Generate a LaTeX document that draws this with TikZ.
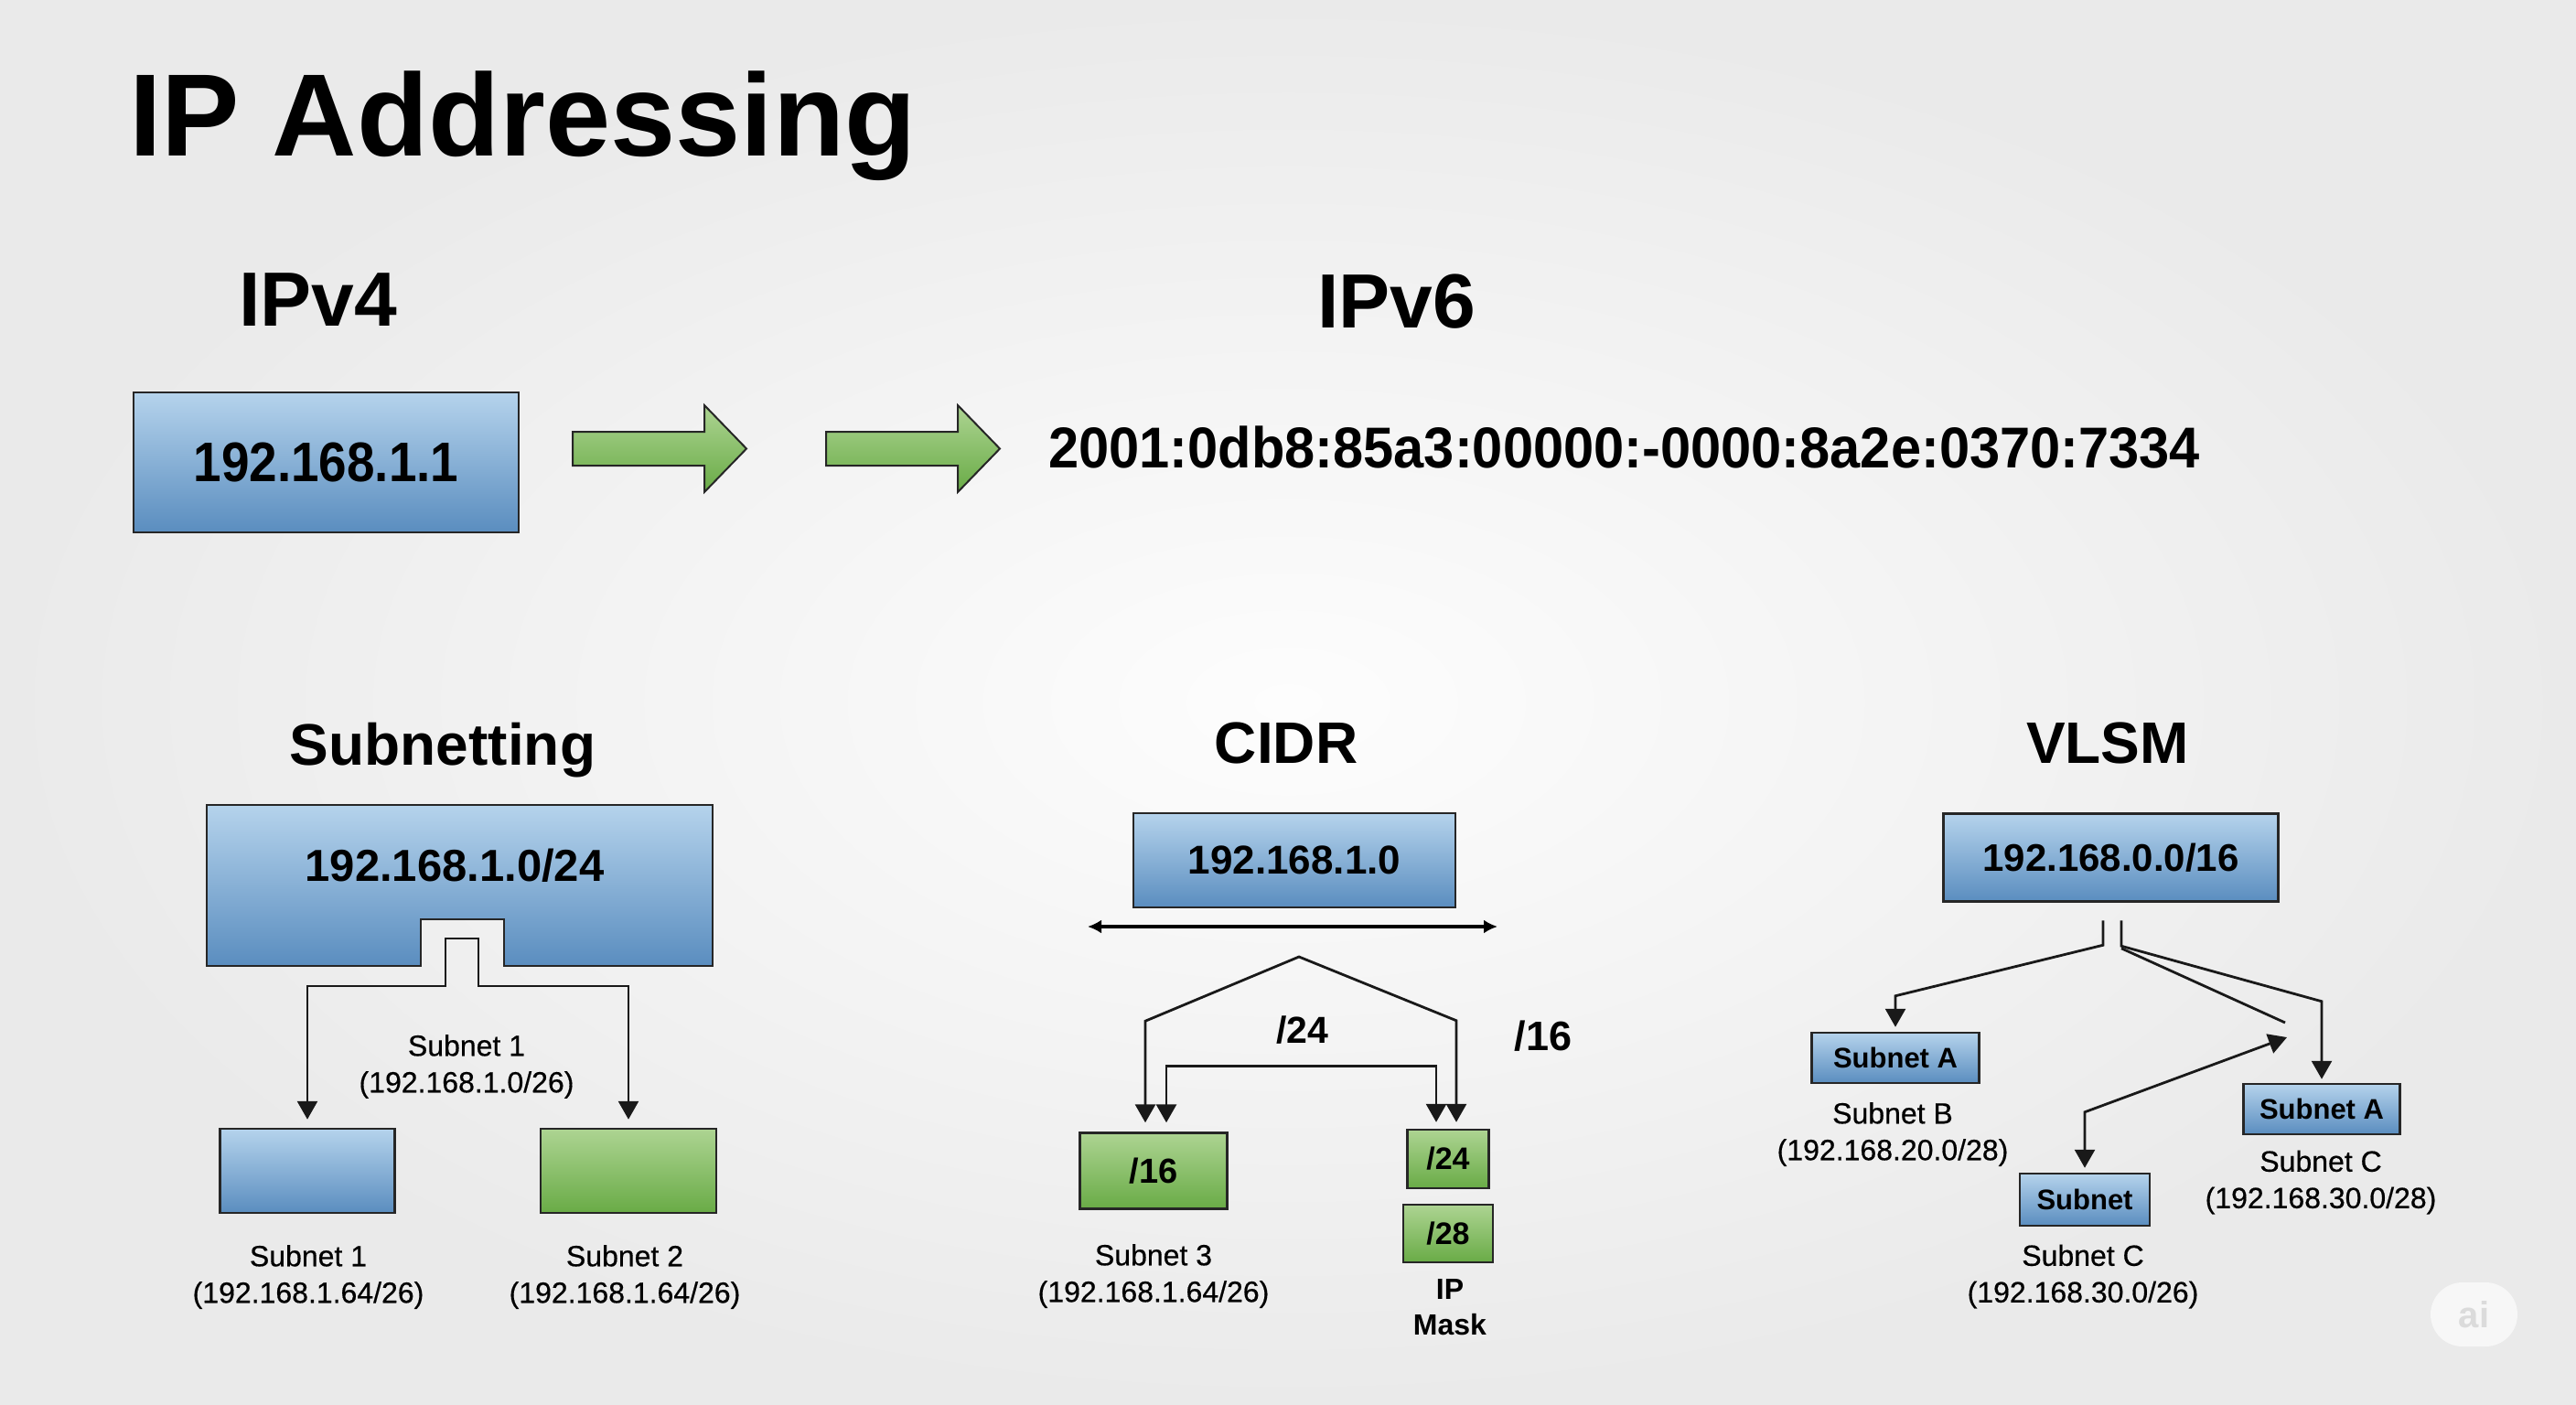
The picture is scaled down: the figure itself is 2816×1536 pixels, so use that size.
\documentclass[tikz,border=0pt]{standalone}
\usepackage{fontspec}
\setmainfont{Liberation Sans}
\newfontfamily\lblfont[FakeBold=0.5]{Liberation Sans}
\usepackage{graphicx}
\usetikzlibrary{arrows.meta,calc}
\definecolor{bgIn}{HTML}{FDFDFD}
\definecolor{bgOut}{HTML}{EAEAEA}
\definecolor{blueT}{HTML}{B5D3EC}
\definecolor{blueB}{HTML}{5A8DBF}
\definecolor{greenT}{HTML}{ADD492}
\definecolor{greenB}{HTML}{69AB46}
\newcommand\fsz[2]{\fontsize{#1}{#2}\selectfont}
\newcommand\squeeze[2]{\scalebox{#1}[1]{#2}}
\tikzset{
  bluebox/.style={draw=black!85,line width=2.5pt,top color=blueT,bottom color=blueB,inner sep=0pt,font=\bfseries},
  greenbox/.style={draw=black!85,line width=2.5pt,top color=greenT,bottom color=greenB,inner sep=0pt,font=\bfseries},
  greenarrow/.style={draw=black!85,line width=2pt,top color=greenT,bottom color=greenB,line join=miter},
  sechead/.style={font=\bfseries\fsz{64}{76},anchor=base,inner sep=0pt},
  lbl/.style={align=center,font=\lblfont\fsz{32}{40},inner sep=0pt},
  conn/.style={line width=2.8pt,draw=black!90},
  endtip/.style={-{Triangle[length=20pt,width=22pt]}},
  bothtips/.style={{Triangle[length=20pt,width=22pt]}-{Triangle[length=20pt,width=22pt]}},
}
\begin{document}
\begin{tikzpicture}[x=1pt,y=-1pt]
  \shade[inner color=bgIn,outer color=bgOut] (0,0) rectangle (2816,1536);
  \useasboundingbox (0,0) rectangle (2816,1536);

  \node[font=\bfseries\fsz{128}{150},anchor=base west,inner sep=0pt] (title) at (141,170) {IP Addressing};

  % top row
  \node[font=\bfseries\fsz{84}{100},anchor=base,inner sep=0pt] (hv4) at (348,356) {IPv4};
  \node[font=\bfseries\fsz{84}{100},anchor=base,inner sep=0pt] (hv6) at (1527,358) {IPv6};
  \node[bluebox,minimum width=421pt,minimum height=153pt] (v4box) at (356.5,505.5) {\fsz{61}{70}\squeeze{0.9}{192.168.1.1}};
  \foreach \x in {626,903}
    \shade[greenarrow] (\x,472) -- ++(144,0) -- ++(0,-29) -- ++(46,47.5) -- ++(-46,47.5) -- ++(0,-29) -- ++(-144,0) -- cycle;
  \node[font=\bfseries\fsz{63}{75},anchor=base west,inner sep=0pt] (v6addr) at (1146,511) {\squeeze{0.946}{2001:0db8:85a3:00000:-0000:8a2e:0370:7334}};

  % subnetting
  \node[sechead] (hsub) at (484,836) {Subnetting};
  \shade[top color=blueT,bottom color=blueB,draw=black!85,line width=2.5pt] (226,880) -- (779,880) -- (779,1056) -- (551,1056) -- (551,1005) -- (460,1005) -- (460,1056) -- (226,1056) -- cycle;
  \node[font=\bfseries\fsz{49}{58}] (subnet) at (497,946) {192.168.1.0/24};
  \node[bluebox,minimum width=191pt,minimum height=92pt] (sn1) at (336,1280) {};
  \node[greenbox,minimum width=192pt,minimum height=92pt] (sn2) at (687,1280) {};
  \coordinate (nl) at (487,1078);
  \coordinate (nt) at (523,1026);
  \draw[conn,bothtips] ([yshift=9pt]sn1.north) |- (nl) |- (nt) |- (sn2.north |- nl) -- ([yshift=9pt]sn2.north);
  \node[lbl] (l1) at (510,1166) {Subnet 1\\(192.168.1.0/26)};
  \node[lbl] (l2) at (337,1396) {Subnet 1\\(192.168.1.64/26)};
  \node[lbl] (l3) at (683,1396) {Subnet 2\\(192.168.1.64/26)};

  % cidr
  \node[sechead] (hcidr) at (1406,834) {CIDR};
  \node[bluebox,minimum width=352pt,minimum height=103pt,font=\bfseries\fsz{44}{52}] (cidr) at (1415,940.5) {192.168.1.0};
  \coordinate (dl) at (1189,1013);
  \coordinate (dr) at (1637,1013);
  \draw[line width=4pt,{Latex[length=15pt,width=15pt]}-{Latex[length=15pt,width=15pt]}] (dl) -- (dr);
  \node[greenbox,minimum width=161pt,minimum height=83pt,font=\bfseries\fsz{38}{45}] (c16) at (1261,1280) {/16};
  \node[greenbox,minimum width=89pt,minimum height=64pt,font=\bfseries\fsz{34}{40}] (c24) at (1583,1267) {/24};
  \node[greenbox,minimum width=98pt,minimum height=63pt,font=\bfseries\fsz{34}{40}] (c28) at (1583,1348.5) {/28};
  \coordinate (apex) at (1420,1046);
  \draw[conn,bothtips] ([xshift=-9pt,yshift=10pt]c16.north) -- ++(0,-111) -- (apex) -- ([xshift=9pt,yshift=118pt]c24.north) -- ([xshift=9pt,yshift=7pt]c24.north);
  \draw[conn,bothtips] ([xshift=14pt,yshift=10pt]c16.north) -- ++(0,-62) -| ([xshift=-13pt,yshift=7pt]c24.north);
  \node[font=\bfseries\fsz{41}{48},anchor=base,inner sep=0pt] (p24) at (1424,1140) {/24};
  \node[font=\bfseries\fsz{45}{54},anchor=base,inner sep=0pt] (p16) at (1687,1148) {/16};
  \node[lbl] (l4) at (1261,1395) {Subnet 3\\(192.168.1.64/26)};
  \node[lbl,font=\bfseries\fsz{32}{39}] (l5) at (1585,1429) {IP\\Mask};

  % vlsm
  \node[sechead] (hvlsm) at (2304,834) {VLSM};
  \node[bluebox,minimum width=366pt,minimum height=96pt,font=\bfseries\fsz{42}{50}] (vlsm) at (2307.5,937.5) {192.168.0.0/16};
  \node[bluebox,minimum width=183pt,minimum height=55pt,font=\bfseries\fsz{31}{37}] (va1) at (2072,1156.5) {Subnet A};
  \node[bluebox,minimum width=171pt,minimum height=55pt,font=\bfseries\fsz{31}{37}] (va2) at (2538,1212.5) {Subnet A};
  \node[bluebox,minimum width=142pt,minimum height=57pt,font=\bfseries\fsz{31}{37}] (vs) at (2279,1311.5) {Subnet};
  \coordinate (vend) at (2498,1118);
  \coordinate (vtip) at (2500,1134);
  \draw[conn,endtip] ([xshift=-8.5pt,yshift=-19.5pt]vlsm.south) -- ++(0,27) -- ([yshift=39pt]va1.north) -- ([yshift=5pt]va1.north);
  \draw[conn,endtip] ([xshift=11.5pt,yshift=-19.5pt]vlsm.south) -- ++(0,28) -- ([yshift=89pt]va2.north) -- ([yshift=4pt]va2.north);
  \draw[conn] ([xshift=11.5pt,yshift=-50pt]vlsm.south) -- (vend);
  \draw[conn,bothtips] (vtip) -- ([yshift=66pt]vs.north) -- ([yshift=5pt]vs.north);
  \node[lbl] (l6) at (2069,1240) {Subnet B\\(192.168.20.0/28)};
  \node[lbl] (l7) at (2537,1292.5) {Subnet C\\(192.168.30.0/28)};
  \node[lbl] (l8) at (2277,1395.5) {Subnet C\\(192.168.30.0/26)};

  \node[fill=white!97!black,rounded corners=35pt,minimum width=95pt,minimum height=70pt,text=black!14,font=\bfseries\fsz{40}{48}] (ai) at (2704.5,1437) {ai};
\end{tikzpicture}
\end{document}
